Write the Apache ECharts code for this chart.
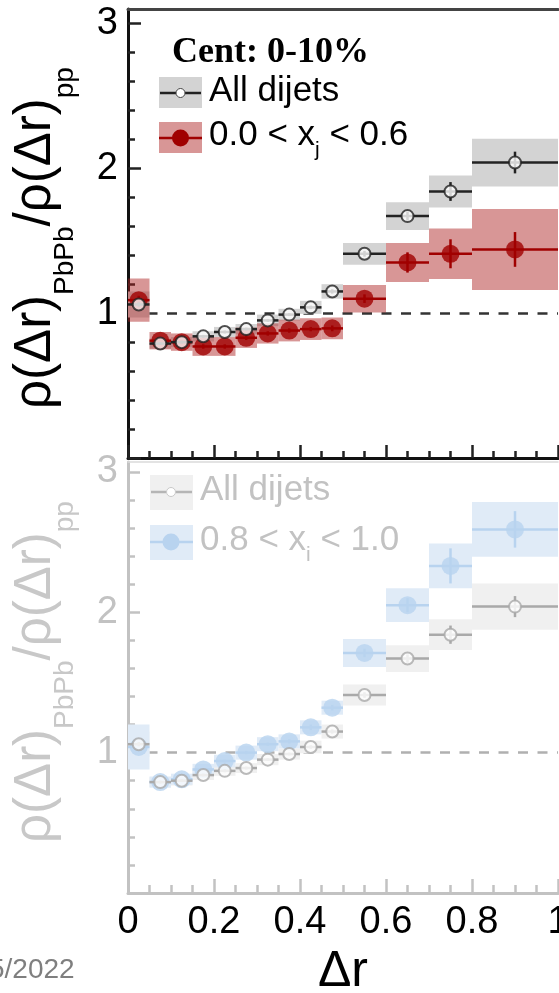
<!DOCTYPE html>
<html>
<head>
<meta charset="utf-8">
<script src="https://cdn.jsdelivr.net/npm/echarts@6/dist/echarts.min.js"></script>
<style>
  html, body { margin: 0; padding: 0; background: #fff; overflow: hidden; }
  #chart { width: 559px; height: 993px; }
</style>
</head>
<body>
<div id="chart"></div>
<script>
// Δr bins (lower / upper edges)
const binLo = [0.00, 0.05, 0.10, 0.15, 0.20, 0.25, 0.30, 0.35, 0.40, 0.45, 0.50, 0.60, 0.70, 0.80];
const binHi = [0.05, 0.10, 0.15, 0.20, 0.25, 0.30, 0.35, 0.40, 0.45, 0.50, 0.60, 0.70, 0.80, 1.00];

// ρ(Δr)PbPb / ρ(Δr)pp, all dijets
const allVal  = [1.06, 0.79, 0.80, 0.84, 0.87, 0.89, 0.95, 0.99, 1.04, 1.15, 1.41, 1.67, 1.84, 2.04];
const allStat = [0.015, 0.01, 0.01, 0.01, 0.01, 0.01, 0.01, 0.01, 0.012, 0.015, 0.02, 0.03, 0.065, 0.075];
const allSys  = [0.09, 0.035, 0.035, 0.035, 0.035, 0.035, 0.04, 0.04, 0.045, 0.05, 0.075, 0.095, 0.11, 0.165];

// 0.0 < xj < 0.6
const lowXjVal  = [1.09, 0.81, 0.80, 0.77, 0.77, 0.83, 0.86, 0.88, 0.89, 0.895, 1.10, 1.35, 1.41, 1.44];
const lowXjStat = [0.03, 0.012, 0.012, 0.015, 0.015, 0.015, 0.015, 0.015, 0.015, 0.02, 0.03, 0.07, 0.10, 0.12];
const lowXjSys  = [0.15, 0.06, 0.06, 0.065, 0.065, 0.07, 0.07, 0.075, 0.075, 0.075, 0.095, 0.135, 0.175, 0.28];

// 0.8 < xj < 1.0
const highXjVal  = [1.04, 0.79, 0.81, 0.88, 0.94, 1.00, 1.06, 1.08, 1.18, 1.32, 1.71, 2.05, 2.33, 2.59];
const highXjStat = [0.02, 0.01, 0.01, 0.01, 0.01, 0.012, 0.012, 0.015, 0.02, 0.02, 0.03, 0.05, 0.125, 0.13];
const highXjSys  = [0.16, 0.04, 0.04, 0.04, 0.045, 0.05, 0.05, 0.05, 0.05, 0.05, 0.10, 0.12, 0.16, 0.195];

// axis ticks and labels
const xMajorTicks = [0, 0.2, 0.4, 0.6, 0.8, 1];
const xMinorTicks = [0.05, 0.1, 0.15, 0.25, 0.3, 0.35, 0.45, 0.5, 0.55, 0.65, 0.7, 0.75, 0.85, 0.9, 0.95];
const xTickLabels = [0, 0.2, 0.4, 0.6, 0.8, 1];
const yMajorTicks = [0, 1, 2, 3];
const yMinorTicks = [0.2, 0.4, 0.6, 0.8, 1.2, 1.4, 1.6, 1.8, 2.2, 2.4, 2.6, 2.8];
const yTickLabels = [1, 2, 3];

const SANS = "'Liberation Sans', Arial, sans-serif";
const SERIF = "'Liberation Serif', 'Times New Roman', serif";

const chart = echarts.init(document.getElementById('chart'), null, { renderer: 'canvas' });

function pairs(vals, extra) {
  return vals.map((v, i) => [binLo[i], binHi[i], v, extra[i]]);
}

// systematic uncertainty boxes
function boxSeries(vals, sys, xi, yi, fill, z) {
  return {
    type: 'custom', xAxisIndex: xi, yAxisIndex: yi, z: z, silent: true,
    data: pairs(vals, sys),
    renderItem: function (params, api) {
      const p0 = api.coord([api.value(0), api.value(2) + api.value(3)]);
      const p1 = api.coord([api.value(1), api.value(2) - api.value(3)]);
      return {
        type: 'rect',
        shape: { x: p0[0], y: p0[1], width: p1[0] - p0[0], height: p1[1] - p0[1] },
        style: { fill: fill }
      };
    }
  };
}

// bin-width bars and statistical error bars
function errSeries(vals, stat, xi, yi, color, z) {
  return {
    type: 'custom', xAxisIndex: xi, yAxisIndex: yi, z: z, silent: true,
    data: pairs(vals, stat),
    renderItem: function (params, api) {
      const lo = api.value(0), hi = api.value(1), v = api.value(2), s = api.value(3);
      const c = (lo + hi) / 2;
      const a = api.coord([lo, v]), b = api.coord([hi, v]);
      const t = api.coord([c, v + s]), d = api.coord([c, v - s]);
      return {
        type: 'group',
        children: [
          { type: 'line', shape: { x1: a[0], y1: a[1], x2: b[0], y2: b[1] }, style: { stroke: color, lineWidth: 2.5 } },
          { type: 'line', shape: { x1: t[0], y1: t[1], x2: d[0], y2: d[1] }, style: { stroke: color, lineWidth: 2.5 } }
        ]
      };
    }
  };
}

function markerSeries(vals, xi, yi, size, itemStyle, z) {
  return {
    type: 'scatter', xAxisIndex: xi, yAxisIndex: yi, z: z, silent: true,
    symbol: 'circle', symbolSize: size, itemStyle: itemStyle,
    data: vals.map((v, i) => [(binLo[i] + binHi[i]) / 2, v])
  };
}

function unityLine(xi, yi, color) {
  return {
    type: 'scatter', xAxisIndex: xi, yAxisIndex: yi, data: [], silent: true,
    markLine: {
      silent: true, symbol: 'none', z: 1, animation: false,
      label: { show: false },
      lineStyle: { type: [10, 9.5], color: color, width: 2.5 },
      data: [{ yAxis: 1 }]
    }
  };
}

function xAxes(gi, lineColor, tickColor, majorLen, minorLen, showLabels, borderColor, borderWidth) {
  return [
    {
      type: 'value', gridIndex: gi, min: 0, max: 1, position: 'bottom',
      axisLine: { show: true, onZero: false, lineStyle: { color: lineColor, width: 3 } },
      axisTick: { show: true, inside: true, length: majorLen, customValues: xMajorTicks, lineStyle: { color: tickColor, width: 2.5 } },
      axisLabel: {
        show: showLabels, customValues: xTickLabels, margin: 11,
        color: '#000', fontFamily: SANS, fontSize: 38,
        hideOverlap: false,
        formatter: v => String(v)
      },
      splitLine: { show: false }
    },
    {
      type: 'value', gridIndex: gi, min: 0, max: 1, position: 'bottom',
      axisLine: { show: false },
      axisTick: { show: true, inside: true, length: minorLen, customValues: xMinorTicks, lineStyle: { color: tickColor, width: 2.5 } },
      axisLabel: { show: false },
      splitLine: { show: false }
    },
    {
      type: 'value', gridIndex: gi, min: 0, max: 1, position: 'top',
      axisLine: { show: true, onZero: false, lineStyle: { color: borderColor, width: borderWidth } },
      axisTick: { show: false }, axisLabel: { show: false }, splitLine: { show: false }
    }
  ];
}

function yAxes(gi, ymax, lineColor, tickColor, labelColor, majorLen, minorLen) {
  return [
    {
      type: 'value', gridIndex: gi, min: 0, max: ymax, position: 'left',
      axisLine: { show: true, onZero: false, lineStyle: { color: lineColor, width: 3 } },
      axisTick: { show: true, inside: true, length: majorLen, customValues: yMajorTicks, lineStyle: { color: tickColor, width: 2.5 } },
      axisLabel: {
        show: true, customValues: yTickLabels, margin: 10,
        color: labelColor, fontFamily: SANS, fontSize: 38,
        formatter: v => String(v)
      },
      splitLine: { show: false }
    },
    {
      type: 'value', gridIndex: gi, min: 0, max: ymax, position: 'left',
      axisLine: { show: false },
      axisTick: { show: true, inside: true, length: minorLen, customValues: yMinorTicks, lineStyle: { color: tickColor, width: 2.5 } },
      axisLabel: { show: false },
      splitLine: { show: false }
    }
  ];
}

// y-axis title (rotated, with subscripts)
function yTitle(cx, cy, color) {
  return {
    type: 'text', x: cx, y: cy, rotation: Math.PI / 2, silent: true, z: 50,
    style: {
      text: 'ρ(Δr){s|PbPb}/ρ(Δr){s|pp}',
      fontFamily: SANS, fontSize: 51, lineHeight: 86,
      fill: color, align: 'center', verticalAlign: 'middle',
      rich: {
        s: { fontFamily: SANS, fontSize: 28, lineHeight: 28, verticalAlign: 'bottom', fill: color }
      }
    }
  };
}

function legendText(x, y, text, color) {
  return {
    type: 'text', x: x, y: y, silent: true, z: 50,
    style: {
      text: text, fontFamily: SANS, fontSize: 35, lineHeight: 52,
      fill: color, align: 'left', verticalAlign: 'middle',
      rich: { s: { fontFamily: SANS, fontSize: 21, lineHeight: 21, verticalAlign: 'bottom', fill: color } }
    }
  };
}

const TOP_GRAY_BOX = '#d3d3d3';
const RED_BOX = 'rgba(172, 32, 32, 0.47)';
const RED = '#a00000';
const LOW_GRAY_BOX = '#f0f0f0';
const BLUE_BOX = '#e0ebf7';
const BLUE = '#b8d3ef';
const LOW_GRAY = '#a9a9a9';

const option = {
  animation: false,
  backgroundColor: '#fff',
  grid: [
    { left: 128, top: 9, width: 430, height: 449, containLabel: false, outerBoundsMode: 'none' },
    { left: 128, top: 462, width: 430, height: 431, containLabel: false, outerBoundsMode: 'none' }
  ],
  xAxis: [].concat(
    xAxes(0, '#111', '#222', 13, 7, false, '#444', 3),
    xAxes(1, '#c2c2c2', '#c2c2c2', 14, 8, true, '#dadada', 1.5)
  ),
  yAxis: [].concat(
    yAxes(0, 3.1, '#111', '#222', '#000', 13, 7),
    yAxes(1, 3.07, '#c2c2c2', '#c2c2c2', '#c2c2c2', 12, 7)
  ),
  series: [
    // upper panel: all dijets vs 0.0 < xj < 0.6
    unityLine(0, 0, '#333'),
    boxSeries(allVal, allSys, 0, 0, TOP_GRAY_BOX, 2),
    boxSeries(lowXjVal, lowXjSys, 0, 0, RED_BOX, 3),
    errSeries(lowXjVal, lowXjStat, 0, 0, RED, 4),
    markerSeries(lowXjVal, 0, 0, 18, { color: RED }, 5),
    errSeries(allVal, allStat, 0, 0, '#222', 6),
    markerSeries(allVal, 0, 0, 12, { color: '#fff', borderColor: '#222', borderWidth: 2 }, 7),

    // lower panel: all dijets vs 0.8 < xj < 1.0
    unityLine(3, 2, '#b0b0b0'),
    boxSeries(allVal, allSys, 3, 2, LOW_GRAY_BOX, 2),
    boxSeries(highXjVal, highXjSys, 3, 2, BLUE_BOX, 3),
    errSeries(highXjVal, highXjStat, 3, 2, BLUE, 4),
    markerSeries(highXjVal, 3, 2, 18, { color: BLUE }, 5),
    errSeries(allVal, allStat, 3, 2, LOW_GRAY, 6),
    markerSeries(allVal, 3, 2, 12, { color: '#fff', borderColor: LOW_GRAY, borderWidth: 2 }, 7)
  ],
  graphic: [
    yTitle(36, 238, '#000'),
    yTitle(36, 672, '#c8c8c8'),

    // upper legend
    { type: 'text', x: 172, y: 53, silent: true, z: 50,
      style: { text: 'Cent: 0-10%', fontFamily: SERIF, fontWeight: 'bold', fontSize: 36, fill: '#000', align: 'left', verticalAlign: 'middle' } },
    { type: 'rect', shape: { x: 159, y: 77, width: 43, height: 31 }, style: { fill: TOP_GRAY_BOX }, z: 40, silent: true },
    { type: 'line', shape: { x1: 160, y1: 93, x2: 176, y2: 93 }, style: { stroke: '#222', lineWidth: 2.5 }, z: 41, silent: true },
    { type: 'line', shape: { x1: 185, y1: 93, x2: 201, y2: 93 }, style: { stroke: '#222', lineWidth: 2.5 }, z: 41, silent: true },
    { type: 'circle', shape: { cx: 180.5, cy: 93, r: 4.5 }, style: { fill: '#fff', stroke: '#444', lineWidth: 1 }, z: 42, silent: true },
    legendText(209, 91, 'All dijets', '#000'),
    { type: 'rect', shape: { x: 159, y: 122, width: 43, height: 31 }, style: { fill: RED_BOX }, z: 40, silent: true },
    { type: 'line', shape: { x1: 159, y1: 138, x2: 202, y2: 138 }, style: { stroke: RED, lineWidth: 2.5 }, z: 41, silent: true },
    { type: 'circle', shape: { cx: 180.5, cy: 138, r: 8.5 }, style: { fill: RED }, z: 42, silent: true },
    legendText(209, 135, '0.0 < x{s|j} < 0.6', '#000'),

    // lower legend
    { type: 'rect', shape: { x: 150, y: 475, width: 43, height: 35 }, style: { fill: LOW_GRAY_BOX }, z: 40, silent: true },
    { type: 'line', shape: { x1: 151, y1: 492, x2: 166, y2: 492 }, style: { stroke: '#b5b5b5', lineWidth: 2.5 }, z: 41, silent: true },
    { type: 'line', shape: { x1: 176, y1: 492, x2: 192, y2: 492 }, style: { stroke: '#b5b5b5', lineWidth: 2.5 }, z: 41, silent: true },
    { type: 'circle', shape: { cx: 171, cy: 492, r: 4.5 }, style: { fill: '#fff', stroke: '#c8c8c8', lineWidth: 1 }, z: 42, silent: true },
    legendText(200, 490, 'All dijets', '#c2c2c2'),
    { type: 'rect', shape: { x: 150, y: 525, width: 43, height: 35 }, style: { fill: BLUE_BOX }, z: 40, silent: true },
    { type: 'line', shape: { x1: 150, y1: 542, x2: 193, y2: 542 }, style: { stroke: BLUE, lineWidth: 2.5 }, z: 41, silent: true },
    { type: 'circle', shape: { cx: 171, cy: 542, r: 8.5 }, style: { fill: BLUE }, z: 42, silent: true },
    legendText(200, 540, '0.8 < x{s|i} < 1.0', '#c2c2c2'),

    // x-axis name
    { type: 'text', x: 343, y: 972, silent: true, z: 50,
      style: { text: 'Δr', fontFamily: SANS, fontSize: 50, fill: '#000', align: 'center', verticalAlign: 'middle' } },

    // footer date
    { type: 'text', x: -11, y: 970, silent: true, z: 50,
      style: { text: '5/2022', fontFamily: SANS, fontSize: 28, fill: '#7f7f7f', align: 'left', verticalAlign: 'middle' } }
  ]
};

chart.setOption(option);
</script>
</body>
</html>
